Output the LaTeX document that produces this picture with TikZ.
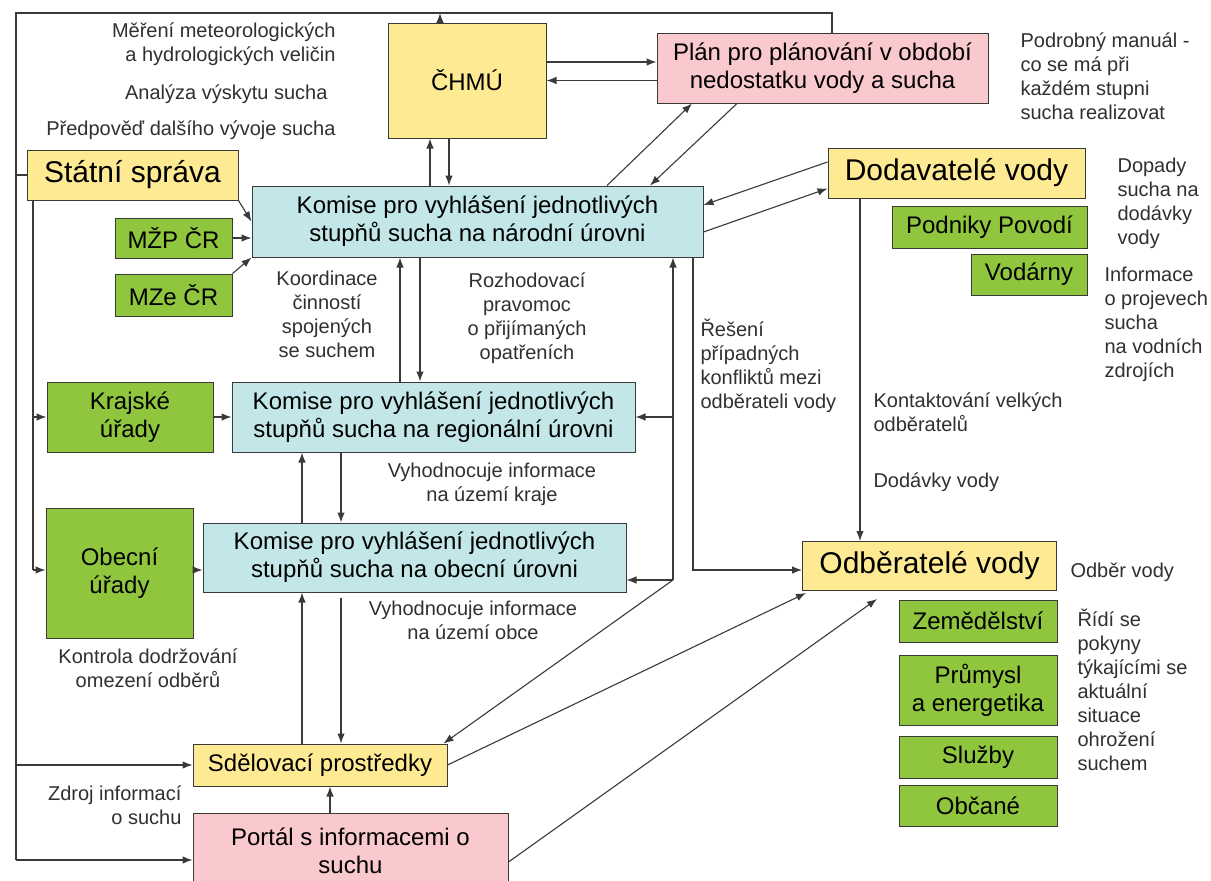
\documentclass[tikz,border=0pt]{standalone}
\usepackage{fontspec}
\setmainfont{Liberation Sans}
\usetikzlibrary{arrows.meta}

\definecolor{zluta}{HTML}{FDEA93}
\definecolor{ruzova}{HTML}{F9C9CD}
\definecolor{modra}{HTML}{C3E7E9}
\definecolor{zelena}{HTML}{8FC63D}
\definecolor{cara}{HTML}{3A3A3A}
\definecolor{popis}{HTML}{303030}

\newcommand{\velky}{\fontsize{30}{34}\selectfont}
\newcommand{\stredni}{\fontsize{24}{28}\selectfont}
\newcommand{\maly}{\fontsize{20}{24}\selectfont}

\begin{document}
\begin{tikzpicture}[x=1pt,y=-1pt,line width=1.1pt,cara,
    >={Latex[length=10pt,width=7.5pt]},
    box/.style={draw=cara,line width=1pt,text=black,align=center,inner sep=0pt,font=\stredni},
    zlutybox/.style={box,fill=zluta},
    ruzovybox/.style={box,fill=ruzova},
    modrybox/.style={box,fill=modra},
    zelenybox/.style={box,fill=zelena},
    note/.style={text=popis,font=\maly,inner sep=0pt}]
    \useasboundingbox[fill=white] (0,0) rectangle (1211,881);

    % hlavni uzly
    \node[zlutybox,minimum width=158pt,minimum height=115pt] (chmu) at (467,80.5) {ČHMÚ};
    \node[ruzovybox,minimum width=331pt,minimum height=70pt] (plan) at (822.5,68) {Plán pro plánování v období\\nedostatku vody a sucha};
    \node[zlutybox,font=\velky,minimum width=211pt,minimum height=50pt] (statni) at (132.5,175) {Státní správa};
    \node[modrybox,minimum width=451pt,minimum height=71pt] (komN) at (477.5,221.5) {Komise pro vyhlášení jednotlivých\\stupňů sucha na národní úrovni};
    \node[zelenybox,minimum width=117pt,minimum height=40pt] (mzp) at (173.5,238) {MŽP ČR};
    \node[zelenybox,minimum width=117pt,minimum height=42pt] (mze) at (173.5,295) {MZe ČR};
    \node[zlutybox,font=\velky,minimum width=257pt,minimum height=50pt] (dodav) at (956.5,173) {Dodavatelé vody};
    \node[zelenybox,minimum width=195pt,minimum height=42pt] (podniky) at (989.5,227) {Podniky Povodí};
    \node[zelenybox,minimum width=116pt,minimum height=41pt] (vodarny) at (1029,274.5) {Vodárny};
    \node[zelenybox,minimum width=166pt,minimum height=70pt] (kraj) at (130,417) {Krajské\\úřady};
    \node[modrybox,minimum width=403pt,minimum height=70pt] (komR) at (433.5,417) {Komise pro vyhlášení jednotlivých\\stupňů sucha na regionální úrovni};
    \node[zelenybox,minimum width=147pt,minimum height=130pt] (obec) at (119.5,573) {Obecní\\úřady};
    \node[modrybox,minimum width=423pt,minimum height=69pt] (komO) at (414.5,557.5) {Komise pro vyhlášení jednotlivých\\stupňů sucha na obecní úrovni};
    \node[zlutybox,minimum width=254pt,minimum height=42pt] (sdel) at (320,765) {Sdělovací prostředky};
    \node[ruzovybox,minimum width=315pt,minimum height=76pt] (portal) at (350.5,851) {Portál s informacemi o\\suchu};
    \node[zlutybox,font=\velky,minimum width=254pt,minimum height=49pt] (odber) at (929.5,566) {Odběratelé vody};
    \node[zelenybox,minimum width=158pt,minimum height=42pt] (zemed) at (978,621) {Zemědělství};
    \node[zelenybox,minimum width=158pt,minimum height=70pt] (prumysl) at (978,690) {Průmysl\\a energetika};
    \node[zelenybox,minimum width=158pt,minimum height=42pt] (sluzby) at (978,757) {Služby};
    \node[zelenybox,minimum width=158pt,minimum height=41pt] (obcane) at (978,806) {Občané};

    % popisky
    \node[note,align=right,anchor=east] (mereni) at (336,44.5) {Měření meteorologických\\a hydrologických veličin};
    \node[note,anchor=east] (analyza) at (328,94) {Analýza výskytu sucha};
    \node[note,anchor=east] (predpoved) at (336,130) {Předpověď dalšího vývoje sucha};
    \node[note,align=left,anchor=west] (manual) at (1020,76) {Podrobný manuál -\\co se má při\\každém stupni\\sucha realizovat};
    \node[note,align=left,anchor=west] (dopady) at (1117,203) {Dopady\\sucha na\\dodávky\\vody};
    \node[note,align=left,anchor=west] (informace) at (1104,324) {Informace\\o projevech\\sucha\\na vodních\\zdrojích};
    \node[note,align=center] (koordinace) at (327,314) {Koordinace\\činností\\spojených\\se suchem};
    \node[note,align=center] (rozhodovaci) at (527,318) {Rozhodovací\\pravomoc\\o přijímaných\\opatřeních};
    \node[note,align=left,anchor=west] (reseni) at (700,366) {Řešení\\případných\\konfliktů mezi\\odběrateli vody};
    \node[note,align=center] (vyhodKraj) at (492,484) {Vyhodnocuje informace\\na území kraje};
    \node[note,align=center] (vyhodObec) at (473,620) {Vyhodnocuje informace\\na území obce};
    \node[note,align=center] (kontrola) at (148,668) {Kontrola dodržování\\omezení odběrů};
    \node[note,align=left,anchor=west] (kontakt) at (873,412) {Kontaktování velkých\\odběratelů};
    \node[note,anchor=west] (dodavky) at (873,482) {Dodávky vody};
    \node[note,anchor=west] (odberVody) at (1070,572) {Odběr vody};
    \node[note,align=left,anchor=west] (ridi) at (1077,690) {Řídí se\\pokyny\\týkajícími se\\aktuální\\situace\\ohrožení\\suchem};
    \node[note,align=right,anchor=east] (zdroj) at (182,805) {Zdroj informací\\o suchu};

    % pomocne body vedeni
    \coordinate (tl) at (16,13);
    \coordinate (tr) at (832,13);
    \coordinate (bl) at (16,860);
    \coordinate (sv) at (33,570);
    \coordinate (jc) at (673,580);
    \coordinate (jd) at (693,570);

    % obvodove vedeni
    \draw (plan.north -| tr) -- (tr) -- (tl) -- (bl);
    \draw[->] ([xshift=-27pt]chmu.north) -- ([xshift=-27pt]chmu.north |- tl);
    \draw (statni.west) -- (statni.west -| tl);
    \draw[->] (tl |- sdel.west) -- (sdel.west);
    \draw[->] (bl) -- (bl -| portal.west);

    % statni sprava dolu k uradum
    \draw (statni.south -| sv) -- (sv);
    \draw[->] (sv) -- (sv -| obec.west);
    \draw[->] (kraj.west -| sv) -- (kraj.west);

    % vstupy do narodni komise
    \draw[->] (statni.south east) -- (komN.west);
    \draw[->] (mzp.east) -- (mzp.east -| komN.west);
    \draw[->] (mze.north east) -- (komN.south west);

    % CHMU a plan
    \draw[->] ([xshift=-47.5pt]komN.north) -- ([xshift=-47.5pt]komN.north |- chmu.south);
    \draw[->] ([xshift=-18pt]chmu.south) -- ([xshift=-18pt]chmu.south |- komN.north);
    \draw[->] ([yshift=18.5pt]chmu.east) -- ([yshift=18.5pt]chmu.east -| plan.west);
    \draw[->] (plan.west |- chmu.east) -- (chmu.east);
    \draw[->] ([xshift=129.5pt]komN.north) -- ([xshift=-130.5pt]plan.south);
    \draw[->] ([xshift=-85.5pt]plan.south) -- ([xshift=172.5pt]komN.north);

    % dodavatele
    \draw[->] ([yshift=11pt]dodav.west) -- ([yshift=16.5pt]komN.east);
    \draw[->] ([yshift=-10.5pt]komN.east) -- ([yshift=10pt]dodav.south west);
    \draw[->] ([xshift=-96.5pt]dodav.south) -- ([xshift=-96.5pt]dodav.south |- odber.north);

    % komise mezi sebou
    \draw[->] ([xshift=-33.5pt]komR.north) -- ([xshift=-33.5pt]komR.north |- komN.south);
    \draw[->] ([xshift=-13.5pt]komR.north |- komN.south) -- ([xshift=-13.5pt]komR.north);
    \draw[->] ([xshift=-112.5pt]komO.north) -- ([xshift=-112.5pt]komO.north |- komR.south);
    \draw[->] ([xshift=-73.5pt]komO.north |- komR.south) -- ([xshift=-73.5pt]komO.north);
    \draw[->] (kraj.east) -- (komR.west);
    \draw[->] (obec.east |- sv) -- (komO.west |- sv);

    % sdelovaci prostredky
    \draw[->] ([xshift=-18pt]sdel.north) -- ([xshift=-18pt]sdel.north |- komO.south);
    \draw[->] ([xshift=21pt,yshift=-5pt]sdel.north |- komO.south) -- ([xshift=21pt]sdel.north);
    \draw[->] ([xshift=10pt]sdel.south |- portal.north) -- ([xshift=10pt]sdel.south);

    % spolecne sloupce vpravo
    \draw[->] (jc) -- (jc |- komN.south);
    \draw[->] (jc |- komR.east) -- (komR.east);
    \draw[->] (jc) -- (jc -| komO.east);
    \draw[->] (jc) -- ([xshift=-4pt]sdel.north east);
    \draw[->] (jd |- komN.south) -- (jd) -- (jd -| odber.west);

    % k odberatelum
    \draw[->] (sdel.east) -- ([xshift=4pt,yshift=-2pt]odber.south west);
    \draw[->] ([yshift=-11pt]portal.east) -- ([xshift=-52.5pt,yshift=-8pt]odber.south);
\end{tikzpicture}
\end{document}
